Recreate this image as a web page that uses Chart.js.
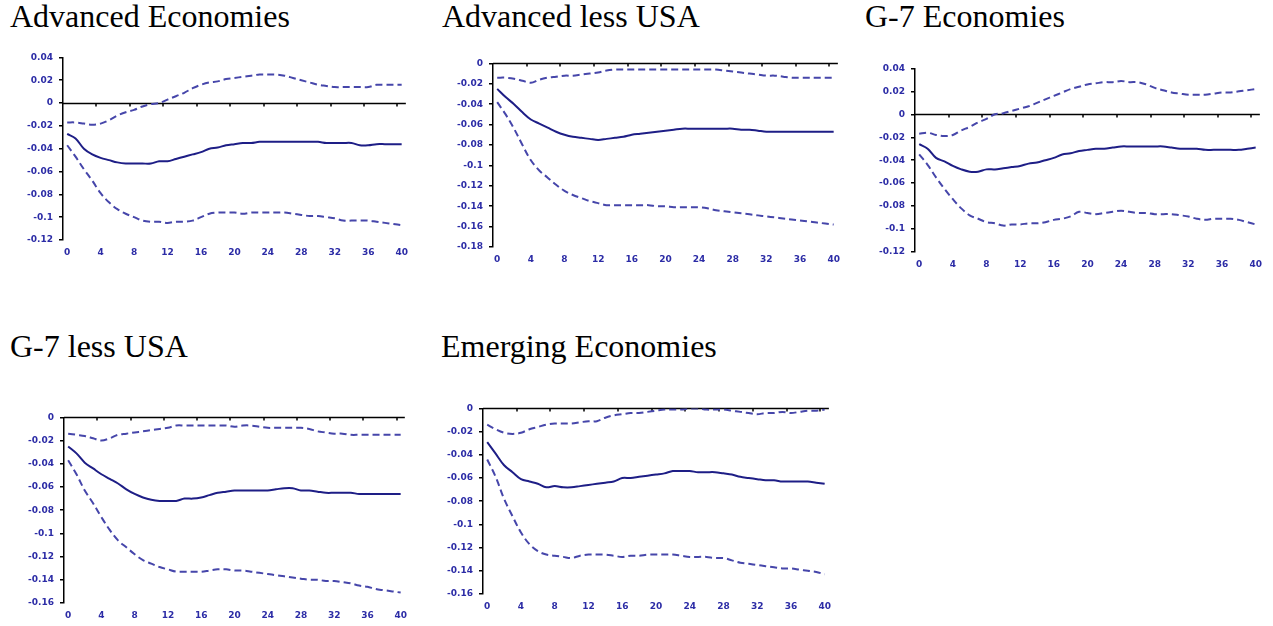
<!DOCTYPE html>
<html lang="en">
<head>
<meta charset="UTF-8">
<title>Impulse responses</title>
<script src="https://cdn.jsdelivr.net/npm/chart.js@4.4.1/dist/chart.umd.min.js"></script>
<style>
  body { margin: 0; background: #fff; width: 1273px; height: 626px; position: relative; overflow: hidden; }
  .title {
    position: absolute;
    font-family: "Liberation Serif", "Times New Roman", serif;
    font-size: 32px;
    line-height: 32px;
    color: #000;
    white-space: nowrap;
  }
  canvas { position: absolute; }
</style>
</head>
<body>
<div class="title" style="left:10px; top:0px;">Advanced Economies</div>
<div class="title" style="left:442px; top:0px;">Advanced less USA</div>
<div class="title" style="left:865px; top:0px;">G-7 Economies</div>
<div class="title" style="left:10px; top:330px;">G-7 less USA</div>
<div class="title" style="left:441px; top:330px;">Emerging Economies</div>

<canvas id="adv"></canvas>
<canvas id="advx"></canvas>
<canvas id="g7"></canvas>
<canvas id="g7x"></canvas>
<canvas id="eme"></canvas>

<script>
  // horizon (quarters) and the labelled ones
  const steps = [0,1,2,3,4,5,6,7,8,9,10,11,12,13,14,15,16,17,18,19,20,
                 21,22,23,24,25,26,27,28,29,30,31,32,33,34,35,36,37,38,39,40];
  const xTickLabels = [0,4,8,12,16,20,24,28,32,36,40];

  // Advanced Economies
  const advHi  = [-0.017,-0.017,-0.018,-0.019,-0.018,-0.015,-0.011,-0.008,-0.006,-0.003,-0.001,0.000,0.003,0.006,0.009,0.013,0.016,0.018,0.019,0.021,0.022,
                  0.023,0.024,0.025,0.025,0.025,0.024,0.022,0.020,0.018,0.016,0.015,0.014,0.014,0.014,0.014,0.014,0.016,0.016,0.016,0.016];
  const advMid = [-0.027,-0.031,-0.040,-0.045,-0.048,-0.050,-0.052,-0.053,-0.053,-0.053,-0.053,-0.051,-0.051,-0.049,-0.047,-0.045,-0.043,-0.040,-0.039,-0.037,-0.036,
                  -0.035,-0.035,-0.034,-0.034,-0.034,-0.034,-0.034,-0.034,-0.034,-0.034,-0.035,-0.035,-0.035,-0.035,-0.037,-0.037,-0.036,-0.036,-0.036,-0.036];
  const advLo  = [-0.037,-0.047,-0.058,-0.068,-0.079,-0.087,-0.093,-0.097,-0.100,-0.103,-0.104,-0.104,-0.105,-0.104,-0.104,-0.103,-0.100,-0.097,-0.096,-0.096,-0.096,
                  -0.097,-0.096,-0.096,-0.096,-0.096,-0.096,-0.097,-0.098,-0.099,-0.099,-0.100,-0.101,-0.103,-0.103,-0.103,-0.103,-0.104,-0.105,-0.106,-0.107];

  // Advanced less USA
  const advxHi  = [-0.014,-0.014,-0.015,-0.017,-0.019,-0.016,-0.014,-0.013,-0.012,-0.012,-0.011,-0.010,-0.009,-0.007,-0.006,-0.006,-0.006,-0.006,-0.006,-0.006,-0.006,
                   -0.006,-0.006,-0.006,-0.006,-0.006,-0.006,-0.007,-0.008,-0.009,-0.010,-0.011,-0.012,-0.012,-0.013,-0.014,-0.014,-0.014,-0.014,-0.014,-0.014];
  const advxMid = [-0.025,-0.033,-0.040,-0.048,-0.055,-0.059,-0.063,-0.067,-0.070,-0.072,-0.073,-0.074,-0.075,-0.074,-0.073,-0.072,-0.070,-0.069,-0.068,-0.067,-0.066,
                   -0.065,-0.064,-0.064,-0.064,-0.064,-0.064,-0.064,-0.064,-0.065,-0.065,-0.066,-0.067,-0.067,-0.067,-0.067,-0.067,-0.067,-0.067,-0.067,-0.067];
  const advxLo  = [-0.038,-0.050,-0.064,-0.080,-0.095,-0.105,-0.112,-0.119,-0.125,-0.129,-0.132,-0.135,-0.137,-0.139,-0.139,-0.139,-0.139,-0.139,-0.139,-0.140,-0.140,
                   -0.141,-0.141,-0.141,-0.141,-0.142,-0.144,-0.145,-0.146,-0.147,-0.148,-0.149,-0.150,-0.151,-0.152,-0.153,-0.154,-0.155,-0.156,-0.157,-0.158];

  // G-7 Economies
  const g7Hi  = [-0.017,-0.016,-0.018,-0.019,-0.018,-0.014,-0.011,-0.007,-0.004,0.000,0.001,0.003,0.005,0.007,0.010,0.013,0.016,0.019,0.022,0.024,0.026,
                 0.027,0.028,0.028,0.029,0.028,0.028,0.026,0.023,0.021,0.019,0.018,0.017,0.017,0.017,0.018,0.019,0.019,0.020,0.021,0.022];
  const g7Mid = [-0.026,-0.030,-0.038,-0.041,-0.045,-0.048,-0.050,-0.050,-0.048,-0.048,-0.047,-0.046,-0.045,-0.043,-0.042,-0.040,-0.038,-0.035,-0.034,-0.032,-0.031,
                 -0.030,-0.030,-0.029,-0.028,-0.028,-0.028,-0.028,-0.028,-0.028,-0.029,-0.030,-0.030,-0.030,-0.031,-0.031,-0.031,-0.031,-0.031,-0.030,-0.029];
  const g7Lo  = [-0.035,-0.044,-0.055,-0.065,-0.074,-0.082,-0.088,-0.091,-0.094,-0.095,-0.097,-0.096,-0.096,-0.095,-0.095,-0.094,-0.092,-0.091,-0.089,-0.085,-0.086,
                 -0.087,-0.086,-0.085,-0.084,-0.085,-0.086,-0.086,-0.087,-0.087,-0.087,-0.088,-0.089,-0.091,-0.092,-0.091,-0.091,-0.091,-0.092,-0.094,-0.096];

  // G-7 less USA
  const g7xHi  = [-0.014,-0.015,-0.016,-0.018,-0.020,-0.018,-0.015,-0.014,-0.013,-0.012,-0.011,-0.010,-0.009,-0.007,-0.007,-0.007,-0.007,-0.007,-0.007,-0.007,-0.008,
                  -0.007,-0.007,-0.008,-0.009,-0.009,-0.009,-0.009,-0.009,-0.010,-0.012,-0.013,-0.014,-0.014,-0.015,-0.015,-0.015,-0.015,-0.015,-0.015,-0.015];
  const g7xMid = [-0.025,-0.031,-0.039,-0.044,-0.049,-0.053,-0.057,-0.062,-0.066,-0.069,-0.071,-0.072,-0.072,-0.072,-0.070,-0.070,-0.069,-0.067,-0.065,-0.064,-0.063,
                  -0.063,-0.063,-0.063,-0.063,-0.062,-0.061,-0.061,-0.063,-0.063,-0.064,-0.065,-0.065,-0.065,-0.065,-0.066,-0.066,-0.066,-0.066,-0.066,-0.066];
  const g7xLo  = [-0.037,-0.049,-0.063,-0.074,-0.086,-0.097,-0.106,-0.112,-0.118,-0.123,-0.126,-0.129,-0.131,-0.133,-0.133,-0.133,-0.133,-0.132,-0.131,-0.131,-0.132,
                  -0.132,-0.133,-0.134,-0.135,-0.136,-0.137,-0.138,-0.139,-0.140,-0.140,-0.141,-0.141,-0.142,-0.143,-0.145,-0.146,-0.148,-0.149,-0.150,-0.151];

  // Emerging Economies
  const emeHi  = [-0.014,-0.018,-0.021,-0.022,-0.021,-0.018,-0.016,-0.014,-0.013,-0.013,-0.013,-0.012,-0.011,-0.011,-0.008,-0.006,-0.005,-0.004,-0.004,-0.003,-0.002,
                  -0.001,-0.001,-0.001,0.000,0.000,-0.001,-0.001,-0.001,-0.002,-0.003,-0.004,-0.005,-0.004,-0.004,-0.003,-0.004,-0.003,-0.002,-0.002,-0.001];
  const emeMid = [-0.029,-0.039,-0.049,-0.055,-0.061,-0.063,-0.065,-0.068,-0.067,-0.068,-0.068,-0.067,-0.066,-0.065,-0.064,-0.063,-0.060,-0.060,-0.059,-0.058,-0.057,
                  -0.056,-0.054,-0.054,-0.054,-0.055,-0.055,-0.055,-0.056,-0.057,-0.059,-0.060,-0.061,-0.062,-0.062,-0.063,-0.063,-0.063,-0.063,-0.064,-0.065];
  const emeLo  = [-0.044,-0.059,-0.078,-0.093,-0.107,-0.117,-0.123,-0.126,-0.127,-0.128,-0.129,-0.127,-0.126,-0.126,-0.126,-0.127,-0.128,-0.127,-0.127,-0.126,-0.126,
                  -0.126,-0.126,-0.127,-0.128,-0.128,-0.128,-0.129,-0.129,-0.131,-0.133,-0.134,-0.135,-0.136,-0.137,-0.138,-0.138,-0.139,-0.140,-0.141,-0.143];

  const AXIS_W = 55, PAD_TOP = 8, PAD_RIGHT = 6, XAXIS_H = 22;
  const solidColor = '#1e1e86';
  const dashColor = '#4646aa';
  const labelColor = '#2c2ca6';

  // zero line with the small tick marks between category groups
  const zeroAxis = {
    id: 'zeroAxis',
    beforeDatasetsDraw(chart) {
      const { ctx, chartArea, scales } = chart;
      const y0 = Math.round(scales.y.getPixelForValue(0)) + 0.5;
      ctx.save();
      ctx.strokeStyle = '#000';
      ctx.lineWidth = 1.5;
      ctx.beginPath();
      ctx.moveTo(chartArea.left, y0);
      ctx.lineTo(chartArea.right, y0);
      xTickLabels.slice(1).forEach(v => {
        const px = Math.round(scales.x.getPixelForValue(v - 0.5));
        ctx.moveTo(px, y0);
        ctx.lineTo(px, y0 + 3);
      });
      ctx.stroke();
      ctx.restore();
    }
  };

  function pts(vals) {
    return steps.map((s, i) => ({ x: s, y: vals[i] }));
  }

  function makePanel(id, box, hi, mid, lo, yMin, yMax) {
    const cv = document.getElementById(id);
    const left = box.axisX - AXIS_W;
    const width = box.right + PAD_RIGHT - left;
    const height = PAD_TOP + (box.bottom - box.top) + XAXIS_H;
    cv.width = width; cv.height = height;
    cv.style.left = left + 'px';
    cv.style.top = (box.top - PAD_TOP) + 'px';
    cv.style.width = width + 'px';
    cv.style.height = height + 'px';

    const dashed = { borderColor: dashColor, borderWidth: 2, borderDash: [7, 4], pointRadius: 0, tension: 0.35, fill: false };
    new Chart(cv, {
      type: 'line',
      data: {
        datasets: [
          Object.assign({ data: pts(hi) }, dashed),
          { data: pts(mid), borderColor: solidColor, borderWidth: 2, pointRadius: 0, tension: 0.35, fill: false },
          Object.assign({ data: pts(lo) }, dashed)
        ]
      },
      options: {
        responsive: false,
        animation: false,
        devicePixelRatio: 1,
        layout: { padding: { top: PAD_TOP, right: PAD_RIGHT, left: 0, bottom: 0 } },
        plugins: { legend: { display: false }, tooltip: { enabled: false } },
        scales: {
          x: {
            type: 'linear',
            min: -0.5,
            max: 40.5,
            afterBuildTicks: s => { s.ticks = xTickLabels.map(v => ({ value: v })); },
            afterFit: s => { s.height = XAXIS_H; },
            grid: { display: false, drawTicks: false },
            border: { display: false },
            ticks: {
              padding: 7,
              autoSkip: false,
              maxRotation: 0,
              color: labelColor,
              font: { family: 'DejaVu Sans', size: 9, weight: 'bold' }
            }
          },
          y: {
            min: yMin,
            max: yMax,
            afterFit: s => { s.width = AXIS_W; },
            grid: { drawOnChartArea: false, drawTicks: true, tickLength: 4, color: '#000', lineWidth: 1.5 },
            border: { display: true, color: '#000', width: 1.5 },
            ticks: {
              stepSize: 0.02,
              padding: 6,
              color: labelColor,
              font: { family: 'DejaVu Sans', size: 9, weight: 'bold' },
              callback: v => String(Number(v.toFixed(2)))
            }
          }
        }
      },
      plugins: [zeroAxis]
    });
  }

  makePanel('adv',  { axisX: 63,  top: 54,  bottom: 240, right: 409 },  advHi,  advMid,  advLo,  -0.12, 0.04);
  makePanel('advx', { axisX: 493, top: 60,  bottom: 247, right: 841 },  advxHi, advxMid, advxLo, -0.18, 0);
  makePanel('g7',   { axisX: 915, top: 65,  bottom: 252, right: 1263 }, g7Hi,   g7Mid,   g7Lo,   -0.12, 0.04);
  makePanel('g7x',  { axisX: 64,  top: 414, bottom: 603, right: 408 },  g7xHi,  g7xMid,  g7xLo,  -0.16, 0);
  makePanel('eme',  { axisX: 483, top: 405, bottom: 594, right: 832 },  emeHi,  emeMid,  emeLo,  -0.16, 0);
</script>
</body>
</html>
